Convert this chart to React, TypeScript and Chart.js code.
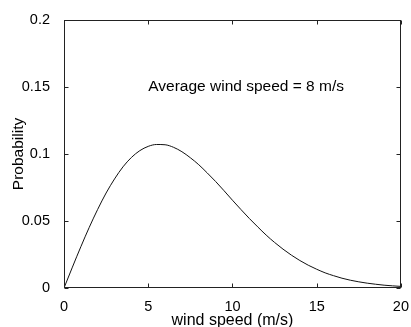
import React, { useEffect, useRef } from "react";
import { Chart, registerables } from "chart.js";

Chart.register(...registerables);

const windSpeeds: number[] = [
  0, 0.5, 1, 1.5, 2, 2.5, 3, 3.5, 4, 4.5, 5, 5.5, 6, 6.5, 7, 7.5, 8, 8.5, 9, 9.5, 10,
  10.5, 11, 11.5, 12, 12.5, 13, 13.5, 14, 14.5, 15, 15.5, 16, 16.5, 17, 17.5, 18, 18.5, 19, 19.5, 20,
];
const probabilities: number[] = [
  0, 0.0156, 0.0308, 0.0453, 0.0587, 0.0709, 0.0814, 0.0904, 0.0974, 0.1025, 0.1057,
  0.1071, 0.1069, 0.105, 0.1017, 0.0972, 0.092, 0.0859, 0.0795, 0.0726, 0.0655,
  0.0586, 0.0519, 0.0456, 0.0395, 0.034, 0.029, 0.0245, 0.0205, 0.017, 0.014,
  0.0113, 0.0092, 0.0073, 0.0058, 0.0046, 0.0036, 0.0028, 0.0021, 0.0016, 0.0012,
];
const xTicks: number[] = [0, 5, 10, 15, 20];
const yTicks: number[] = [0, 0.05, 0.1, 0.15, 0.2];
const xLabel = "wind speed (m/s)";
const yLabel = "Probability";
const annotation = { text: "Average wind speed = 8 m/s", x: 5, y: 0.15 };

const FONT = "'Liberation Sans', Arial, Helvetica, sans-serif";

const boxPlugin = {
  id: "matlabBox",
  afterDraw(chart: any) {
    const { ctx, chartArea, scales } = chart;
    const xs = scales.x;
    const ys = scales.y;
    ctx.save();
    ctx.strokeStyle = "#222";
    ctx.lineWidth = 1;
    const l = Math.round(chartArea.left) + 0.5;
    const r = Math.round(chartArea.right) - 0.5;
    const t = Math.round(chartArea.top) + 0.5;
    const b = Math.round(chartArea.bottom) - 0.5;
    ctx.strokeRect(l, t, r - l, b - t);
    const tl = 4;
    ctx.beginPath();
    xTicks.forEach((v) => {
      const px = Math.round(xs.getPixelForValue(v)) + 0.5;
      ctx.moveTo(px, b);
      ctx.lineTo(px, b - tl);
      ctx.moveTo(px, t);
      ctx.lineTo(px, t + tl);
    });
    yTicks.forEach((v) => {
      const py = Math.round(ys.getPixelForValue(v)) + 0.5;
      ctx.moveTo(l, py);
      ctx.lineTo(l + tl, py);
      ctx.moveTo(r, py);
      ctx.lineTo(r - tl, py);
    });
    ctx.stroke();
    ctx.fillStyle = "#000";
    ctx.font = `15.5px ${FONT}`;
    ctx.textAlign = "left";
    ctx.textBaseline = "middle";
    ctx.fillText(annotation.text, xs.getPixelForValue(annotation.x), ys.getPixelForValue(annotation.y));
    ctx.restore();
  },
};

export default function App() {
  const ref = useRef<HTMLCanvasElement | null>(null);
  useEffect(() => {
    if (!ref.current) return;
    const chart = new Chart(ref.current, {
      type: "line",
      data: {
        datasets: [
          {
            data: windSpeeds.map((x, i) => ({ x, y: probabilities[i] })),
            borderColor: "#111",
            borderWidth: 1,
            pointRadius: 0,
            cubicInterpolationMode: "monotone",
            fill: false,
          },
        ],
      },
      options: {
        responsive: false,
        animation: false,
        devicePixelRatio: 1,
        layout: { padding: { top: 20, right: 8, left: 0, bottom: 0 } },
        plugins: { legend: { display: false }, tooltip: { enabled: false } },
        scales: {
          x: {
            type: "linear",
            min: 0,
            max: 20,
            afterBuildTicks: (s: any) => {
              s.ticks = xTicks.map((v) => ({ value: v }));
            },
            afterFit: (s: any) => {
              s.height = 39;
            },
            ticks: { color: "#000", font: { family: FONT, size: 14.5 }, padding: 2, maxRotation: 0 },
            grid: { display: false },
            border: { display: false },
            title: {
              display: true,
              text: xLabel,
              color: "#000",
              font: { family: FONT, size: 16 },
              padding: { top: 0, bottom: -3 },
            },
          },
          y: {
            type: "linear",
            min: 0,
            max: 0.2,
            afterBuildTicks: (s: any) => {
              s.ticks = yTicks.map((v) => ({ value: v }));
            },
            afterFit: (s: any) => {
              s.width = 64;
            },
            ticks: {
              color: "#000",
              font: { family: FONT, size: 14.5 },
              padding: 6,
              callback: (v: any) => String(Number(v)),
            },
            grid: { display: false },
            border: { display: false },
            title: {
              display: true,
              text: yLabel,
              color: "#000",
              font: { family: FONT, size: 15.5 },
              padding: { top: 9, bottom: 0 },
            },
          },
        },
      },
      plugins: [boxPlugin],
    });
    return () => chart.destroy();
  }, []);
  return (
    <div style={{ position: "absolute", left: 0, top: 0, width: 411, height: 327, background: "#fff" }}>
      <canvas ref={ref} width={411} height={327} style={{ width: 411, height: 327, display: "block" }} />
    </div>
  );
}
